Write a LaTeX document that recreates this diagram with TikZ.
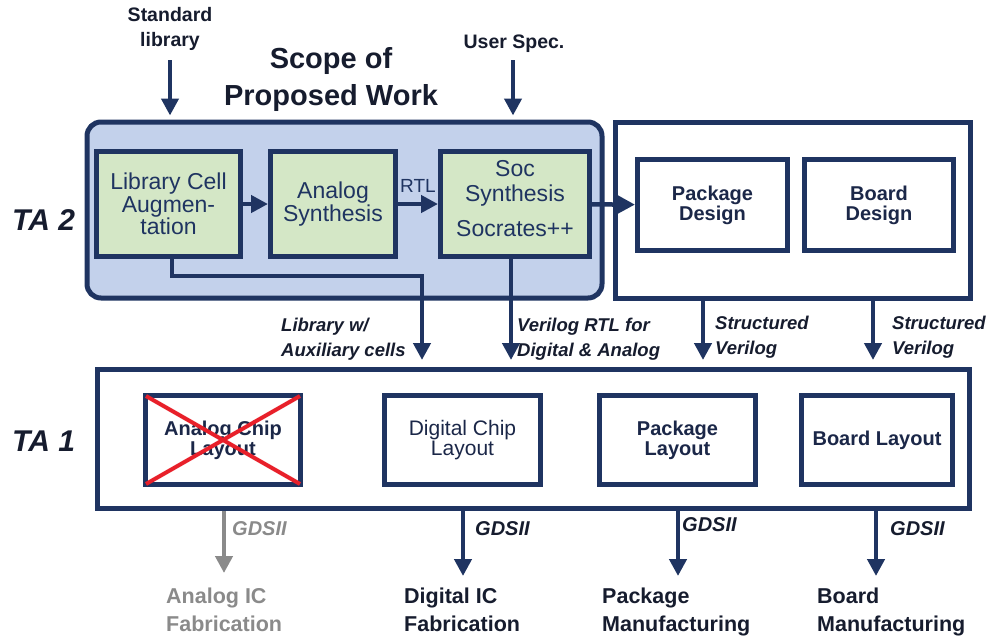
\documentclass[tikz,border=0pt]{standalone}
\usepackage{fontspec}
\setmainfont{Liberation Sans}
\usetikzlibrary{arrows.meta}
\definecolor{navy}{HTML}{1F3461}
\definecolor{scopefill}{HTML}{C3D1EB}
\definecolor{greenfill}{HTML}{D4E7C6}
\definecolor{txtdark}{HTML}{161C2E}
\definecolor{boxtxt}{HTML}{1B2748}
\definecolor{crossred}{HTML}{E8202A}
\definecolor{graytxt}{HTML}{8A8A8A}
\lineskiplimit=-100pt
\begin{document}
\begin{tikzpicture}[x=1pt,y=-1pt,
  box/.style={draw=navy, line width=5pt, inner sep=0pt},
  greenbox/.style={box, fill=greenfill, text=navy, align=center, font=\fontsize{23}{22.5}\selectfont},
  greentext/.style={text=navy, align=center, inner sep=0pt, font=\fontsize{23}{25}\selectfont},
  whitebox/.style={box, fill=white, text=boxtxt, align=center, font=\fontsize{20}{20}\selectfont\bfseries},
  arr/.style={draw=navy, line width=4.5pt, -{Triangle[length=17pt,width=17pt]}},
  garr/.style={draw=graytxt, line width=4.5pt, -{Triangle[length=17pt,width=17pt]}},
  conlab/.style={font=\fontsize{18.5}{25}\selectfont\bfseries\itshape, text=txtdark, align=left, anchor=north west, inner sep=0pt},
  gdslab/.style={font=\fontsize{20}{20}\selectfont\bfseries\itshape, text=txtdark, anchor=north west, inner sep=0pt},
  botlab/.style={font=\fontsize{21.5}{28}\selectfont\bfseries, text=txtdark, align=left, anchor=north west, inner sep=0pt},
  talab/.style={font=\fontsize{30}{30}\selectfont\bfseries\itshape, text=txtdark, anchor=base west, inner sep=0pt},
  toplab/.style={font=\fontsize{19.5}{25}\selectfont\bfseries, text=txtdark, align=center, inner sep=0pt}
]
\useasboundingbox (0,0) rectangle (992,638);

% TA2 row
\node[box, fill=scopefill, rounded corners=14pt, minimum width=515pt, minimum height=176pt] (scope) at (344.5,210) {};
\node[box, minimum width=355pt, minimum height=176pt] (rbox) at (793,210.5) {};
\node[greenbox, minimum width=144pt, minimum height=105pt] (lib) at (168.5,204) {Library Cell\\Augmen-\\tation};
\node[greenbox, minimum width=125pt, minimum height=105pt] (ana) at (333,204) {Analog\\Synthesis};
\node[greenbox, minimum width=149pt, minimum height=105pt] (soc) at (515,204) {};
\node[greentext, anchor=north] (soctxt) at (515,160.5) {Soc\\Synthesis\\[10pt]Socrates++};
\node[whitebox, minimum width=150pt, minimum height=91pt] (pkgd) at (712.5,205) {Package\\Design};
\node[whitebox, minimum width=149pt, minimum height=91pt] (bdd) at (879,205) {Board\\Design};

% TA1 row
\node[box, minimum width=872pt, minimum height=139pt] (ta1) at (533.5,439) {};
\node[whitebox, minimum width=155pt, minimum height=89pt] (acl) at (223,440) {Analog Chip\\Layout};
\draw[crossred, line width=4pt] ([shift={(3pt,-3pt)}]acl.north west) -- ([shift={(-3pt,3pt)}]acl.south east);
\draw[crossred, line width=4pt] ([shift={(3pt,3pt)}]acl.south west) -- ([shift={(-3pt,-3pt)}]acl.north east);
\node[whitebox, font=\fontsize{21}{20}\selectfont, minimum width=156pt, minimum height=89pt] (dcl) at (462.5,440) {Digital Chip\\Layout};
\node[whitebox, minimum width=156pt, minimum height=89pt] (pkl) at (677.5,440) {Package\\Layout};
\node[whitebox, minimum width=151pt, minimum height=89pt] (bdl) at (877,440) {Board Layout};

% titles
\node[toplab, anchor=north] (stdlib) at (170,7) {Standard\\library};
\node[toplab, anchor=base] (uspec) at (514,48) {User Spec.};
\node[font=\fontsize{29}{37}\selectfont\bfseries, text=txtdark, align=center, inner sep=0pt, anchor=north] (scopetitle) at (331,47) {Scope of\\Proposed Work};
\node[talab] (ta2lab) at (12,230) {TA 2};
\node[talab] (ta1lab) at (12,451) {TA 1};

% TA2 arrows
\coordinate (stdin) at (170,60);
\coordinate (usrin) at (513,60);
\draw[arr, shorten >=4pt] (stdin) -- (stdin |- scope.north);
\draw[arr, shorten >=4pt] (usrin) -- (usrin |- scope.north);
\draw[arr] (lib) -- (ana);
\draw[arr] (ana) -- (soc);
\node[font=\fontsize{19}{19}\selectfont, text=navy, inner sep=0pt, anchor=base west] (rtl) at (400,192) {RTL};
\draw[arr] (soc) -- (pkgd);

% down connectors
\coordinate (libturn) at (422,276);
\draw[arr, shorten >=7pt] ([xshift=3.5pt]lib.south) |- (libturn) -- (libturn |- ta1.north);
\draw[arr, shorten >=7pt] ([xshift=-4pt]soc.south) -- ([xshift=-4pt]soc.south |- ta1.north);
\coordinate (sv1) at (703,0);
\coordinate (sv2) at (873,0);
\draw[arr, shorten >=7pt] (rbox.south -| sv1) -- (ta1.north -| sv1);
\draw[arr, shorten >=7pt] (rbox.south -| sv2) -- (ta1.north -| sv2);

\node[conlab] (l1) at (281,318) {Library w/\\Auxiliary cells};
\node[conlab] (l2) at (517,318) {Verilog RTL for\\Digital \& Analog};
\node[conlab] (l3) at (715,315.5) {Structured\\Verilog};
\node[conlab] (l4) at (892,316) {Structured\\Verilog};

% GDSII outputs
\coordinate (ga) at (224,573);
\coordinate (dg) at (463,576);
\coordinate (pg) at (678,576);
\coordinate (bg) at (876,576);
\draw[garr] (ta1.south -| ga) -- (ga);
\draw[arr] (ta1.south -| dg) -- (dg);
\draw[arr] (ta1.south -| pg) -- (pg);
\draw[arr] (ta1.south -| bg) -- (bg);

\node[gdslab, text=graytxt] (g1) at (232,521) {GDSII};
\node[gdslab] (g2) at (475,521) {GDSII};
\node[gdslab] (g3) at (682,517) {GDSII};
\node[gdslab] (g4) at (890,521) {GDSII};

\node[botlab, text=graytxt] (b1) at (166,588) {Analog IC\\Fabrication};
\node[botlab] (b2) at (404,588) {Digital IC\\Fabrication};
\node[botlab] (b3) at (602,588) {Package\\Manufacturing};
\node[botlab] (b4) at (817,588) {Board\\Manufacturing};
\end{tikzpicture}
\end{document}
